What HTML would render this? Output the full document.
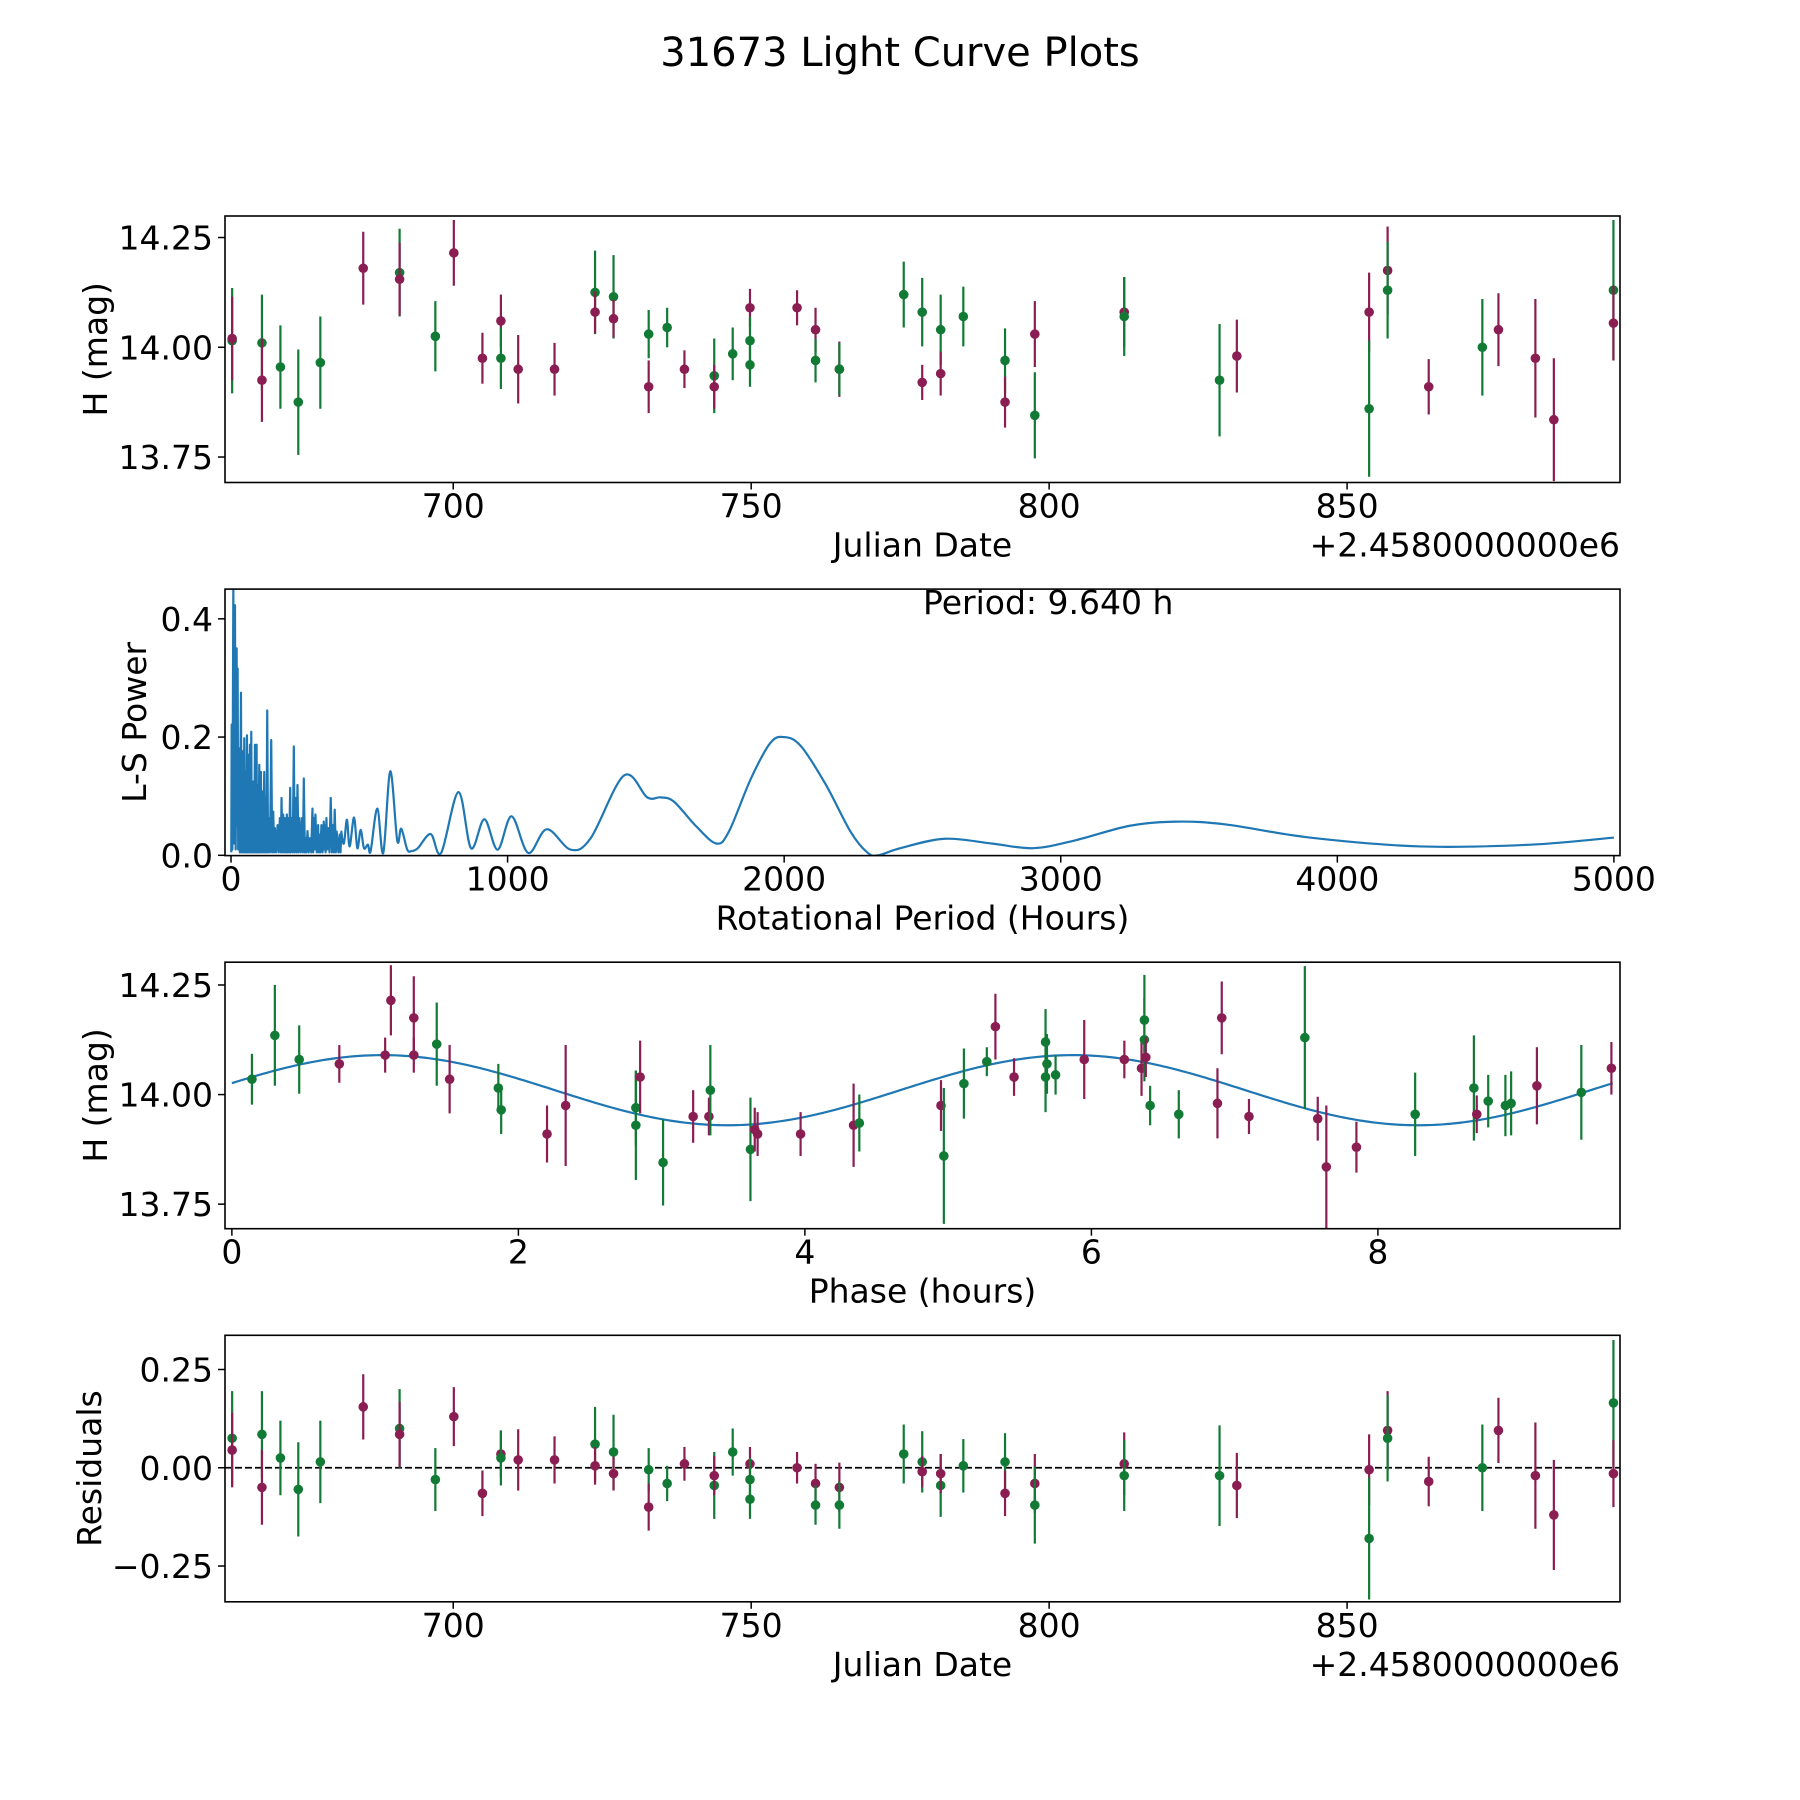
<!DOCTYPE html>
<html><head><meta charset="utf-8"><style>
html,body{margin:0;padding:0;background:#fff;}
svg{display:block;font-family:"DejaVu Sans","Liberation Sans",sans-serif;}
</style></head><body>
<svg id="fig" width="1800" height="1800" viewBox="0 0 1800 1800">
<text x="900" y="66" text-anchor="middle" font-size="40">31673 Light Curve Plots</text>
</svg>
<script>
// ---------- data: light curve ----------
const dates = [662.9,662.9,667.9,667.9,671.0,674.0,677.7,684.9,691.0,691.0,697.0,700.1,704.9,708.0,708.0,710.9,717.0,723.8,723.8,726.9,726.9,732.8,732.8,735.9,738.8,743.8,743.8,746.9,749.8,749.8,749.8,757.7,760.8,760.8,764.8,764.8,775.6,778.7,778.7,781.8,781.8,785.6,792.6,792.6,797.6,797.6,812.6,812.6,828.6,831.5,853.7,853.7,856.8,856.8,863.7,872.7,875.4,881.6,884.7,894.7,894.7];
const bands = ['g','p','g','p','g','g','g','p','g','p','g','p','p','p','g','p','p','g','p','g','p','g','p','g','p','g','p','g','p','g','g','p','p','g','p','g','g','g','p','g','p','g','g','p','p','g','p','g','g','p','p','g','p','g','p','g','p','p','p','g','p'];
const mags = [14.015,14.02,14.01,13.925,13.955,13.875,13.965,14.18,14.17,14.155,14.025,14.215,13.975,14.06,13.975,13.95,13.95,14.125,14.08,14.115,14.065,14.03,13.91,14.045,13.95,13.935,13.91,13.985,14.09,14.015,13.96,14.09,14.04,13.97,13.95,13.95,14.12,14.08,13.92,14.04,13.94,14.07,13.97,13.875,14.03,13.845,14.08,14.07,13.925,13.98,14.08,13.86,14.175,14.13,13.91,14.0,14.04,13.975,13.835,14.13,14.055];
const errs = [0.12,0.095,0.11,0.095,0.095,0.12,0.105,0.083,0.10,0.083,0.08,0.075,0.058,0.06,0.07,0.078,0.06,0.095,0.048,0.095,0.043,0.055,0.06,0.045,0.043,0.085,0.05,0.06,0.043,0.055,0.05,0.04,0.05,0.05,0.063,0.06,0.075,0.078,0.04,0.08,0.05,0.068,0.073,0.058,0.075,0.098,0.08,0.09,0.128,0.083,0.09,0.155,0.1,0.11,0.063,0.11,0.083,0.135,0.14,0.16,0.085];
const resids = [0.075,0.045,0.085,-0.05,0.025,-0.055,0.015,0.155,0.10,0.085,-0.03,0.13,-0.065,0.035,0.025,0.02,0.02,0.06,0.005,0.04,-0.015,-0.005,-0.10,-0.04,0.01,-0.045,-0.02,0.04,0.01,-0.03,-0.08,0.0,-0.04,-0.095,-0.05,-0.095,0.035,0.015,-0.01,-0.045,-0.015,0.005,0.015,-0.065,-0.04,-0.095,0.01,-0.02,-0.02,-0.045,-0.005,-0.18,0.095,0.075,-0.035,0.0,0.095,-0.02,-0.12,0.165,-0.015];
// ---------- data: phased ----------
const phases = [0.14,0.30,0.47,0.75,1.07,1.11,1.27,1.27,1.43,1.52,1.86,1.88,2.20,2.33,2.82,2.82,2.85,3.01,3.22,3.33,3.34,3.62,3.65,3.67,3.97,4.34,4.38,4.95,4.97,5.11,5.27,5.33,5.46,5.68,5.68,5.69,5.75,5.95,6.23,6.35,6.37,6.37,6.38,6.41,6.61,6.88,6.91,7.10,7.49,7.58,7.64,7.85,8.26,8.67,8.69,8.77,8.89,8.93,9.11,9.42,9.63];
const phaseBands = ['g','g','g','p','p','p','p','p','g','p','g','g','p','p','g','g','p','g','p','p','g','g','p','p','p','p','g','p','g','g','g','p','p','g','g','g','g','p','p','p','g','g','p','g','g','p','p','p','g','p','p','p','g','g','p','g','g','g','p','g','p'];
const phaseMags = [14.035,14.135,14.08,14.07,14.09,14.215,14.175,14.09,14.115,14.035,14.015,13.965,13.91,13.975,13.97,13.93,14.04,13.845,13.95,13.95,14.01,13.875,13.92,13.91,13.91,13.93,13.935,13.975,13.86,14.025,14.075,14.155,14.04,14.12,14.04,14.07,14.045,14.08,14.08,14.06,14.17,14.125,14.085,13.975,13.955,13.98,14.175,13.95,14.13,13.945,13.835,13.88,13.955,14.015,13.955,13.985,13.975,13.98,14.02,14.005,14.06];
const phaseErrs = [0.058,0.115,0.078,0.043,0.04,0.08,0.095,0.04,0.095,0.078,0.055,0.055,0.065,0.138,0.085,0.125,0.083,0.098,0.06,0.043,0.103,0.118,0.05,0.05,0.05,0.095,0.065,0.058,0.155,0.08,0.033,0.075,0.043,0.075,0.08,0.068,0.045,0.09,0.043,0.063,0.103,0.095,0.045,0.045,0.055,0.08,0.083,0.04,0.163,0.05,0.14,0.058,0.095,0.12,0.043,0.06,0.07,0.073,0.088,0.108,0.06];
const fitParams = [14.01, 0.08, 9.64, -0.155]; // mean, amplitude, period, phase offset (model)
// ---------- data: periodogram ----------
const periods = [1,2.4,5,8.4,11,14.4,17,20.4,22,24,26,28.8,32,36,38,40.9,44,48,50,52.9,55,57.7,60,62.5,65,68.5,71,73.3,75,76.9,79,81.7,84,86.5,89,92.5,94,96.2,99,102.2,105,108.2,110,113,116,120.2,122,125,128,131,134,137,141,145.4,149,152.7,156,158.7,163,168.3,172,176.7,180,182.7,186,188.7,192,194.7,198,201.9,204,206.7,210,214,216,218.8,223,227.2,230,233.2,237,240.4,244,247.6,252,257.2,260,263.2,267,270.5,273,276.5,281,286,290,294.5,297,300.5,303,305.3,310,315,317,319.7,323,327,331,335.4,337,339,342,345,348,351,356,360.6,365,369,372,375,379,382.2,388,393,396,399,405,411,419.5,429,444.7,456.8,468.8,480.8,495.2,504.8,528.9,550.5,575.8,601,615.4,637,651.5,675.5,721.9,759.7,822.2,867.8,916,964,1014.5,1074.6,1141.9,1228.4,1300.6,1420.8,1504.9,1553,1601,1680,1754,1800,1880,1950,2000,2060,2150,2240,2300,2340,2420,2580,2750,2900,3050,3250,3420,3600,3900,4300,4700,5000];
const powers = [0.005,0.221,0.01,0.452,0.02,0.423,0.01,0.35,0.05,0.316,0.01,0.181,0.005,0.275,0.005,0.176,0.005,0.198,0.005,0.141,0.005,0.203,0.005,0.17,0.005,0.187,0.005,0.209,0.005,0.119,0.005,0.125,0.005,0.187,0.005,0.187,0.005,0.119,0.005,0.153,0.005,0.141,0.005,0.108,0.005,0.141,0.005,0.097,0.005,0.245,0.005,0.063,0.005,0.195,0.005,0.074,0.005,0.046,0.005,0.051,0.005,0.063,0.005,0.097,0.005,0.069,0.005,0.063,0.005,0.069,0.005,0.063,0.005,0.114,0.005,0.063,0.005,0.184,0.005,0.097,0.005,0.119,0.005,0.063,0.005,0.063,0.005,0.13,0.005,0.029,0.005,0.041,0.005,0.029,0.005,0.079,0.005,0.063,0.01,0.069,0.005,0.051,0.005,0.035,0.005,0.051,0.005,0.057,0.01,0.051,0.005,0.063,0.01,0.046,0.005,0.097,0.005,0.051,0.005,0.077,0.005,0.04,0.005,0.035,0.005,0.04,0.01,0.029,0.06,0.015,0.064,0.012,0.043,0.012,0.018,0.007,0.079,0.004,0.142,0.025,0.045,0.01,0.007,0.012,0.036,0.004,0.107,0.012,0.061,0.0095,0.066,0.004,0.044,0.0095,0.029,0.135,0.098,0.098,0.091,0.05,0.02,0.04,0.13,0.19,0.2,0.185,0.12,0.04,0.005,0.0,0.012,0.028,0.02,0.012,0.025,0.05,0.057,0.052,0.03,0.015,0.018,0.03];
const jdTicks = [700,750,800,850];
const magTicks = [14.25,14.00,13.75];
const magTickLabels = ['14.25','14.00','13.75'];
const perTicks = [0,1000,2000,3000,4000,5000];
const powTicks = [0,0.2,0.4];
const powTickLabels = ['0.0','0.2','0.4'];
const phaseTicks = [0,2,4,6,8];
const resTicks = [0.25,0,-0.25];
const resTickLabels = ['0.25','0.00','\u22120.25'];

const NS='http://www.w3.org/2000/svg';
const svg=document.getElementById('fig');
const COL={g:'#117a34',p:'#8a1d52'};
const L=225,R=1620,H=266.5;
const FS=33;
const tops=[216,589.1,962.2,1335.3];
function mk(tag,attrs,parent){const e=document.createElementNS(NS,tag);for(const k in attrs)e.setAttribute(k,attrs[k]);(parent||svg).appendChild(e);return e;}
function scale(d0,d1,r0,r1){return v=>r0+(v-d0)/(d1-d0)*(r1-r0);}

function axes(idx,xd,yd,xt,xtl,yt,ytl,xlabel,ylabel,ylabX,name){
  const top=tops[idx],bot=top+H;
  const g=mk('g',{});
  
  
  const sx=scale(xd[0],xd[1],L,R), sy=scale(yd[0],yd[1],bot,top);
  const clipId='clip'+idx;
  const cp=mk('clipPath',{id:clipId},g);mk('rect',{x:L,y:top,width:R-L,height:H},cp);
  const plot=mk('g',{'clip-path':'url(#'+clipId+')'},g);
  xt.forEach((t,i)=>{const x=sx(t);
    const tk=mk('line',{x1:x,x2:x,y1:bot,y2:bot+7,stroke:'#000','stroke-width':1.5},g);
    
    
    const tl=mk('text',{x:x,y:bot+35,'text-anchor':'middle','font-size':FS},g);tl.textContent=xtl[i];
    
    });
  yt.forEach((t,i)=>{const y=sy(t);
    const tk=mk('line',{x1:L-7,x2:L,y1:y,y2:y,stroke:'#000','stroke-width':1.5},g);
    
    
    const tl=mk('text',{x:L-12,y:y+12,'text-anchor':'end','font-size':FS},g);tl.textContent=ytl[i];
    
    });
  const xl=mk('text',{x:(L+R)/2,y:bot+74,'text-anchor':'middle','font-size':FS},g);xl.textContent=xlabel;
  
  
  const yl=mk('text',{x:ylabX,y:(top+bot)/2,'text-anchor':'middle','font-size':FS,transform:'rotate(-90 '+ylabX+' '+((top+bot)/2)+')'},g);yl.textContent=ylabel;
  
  
  const fr=mk('rect',{x:L,y:top,width:R-L,height:H,fill:'none',stroke:'#000','stroke-width':1.6},g);
  
  
  return {sx,sy,plot,g,top,bot};
}
function errPoints(ax,xs,ys,es,cs,name){
  xs.forEach((xv,i)=>{const x=ax.sx(xv),y=ax.sy(ys[i]);
    const grp=mk('g',{},ax.plot);
    
    
    mk('line',{x1:x,x2:x,y1:ax.sy(ys[i]+es[i]),y2:ax.sy(ys[i]-es[i]),stroke:COL[cs[i]],'stroke-width':2.2},grp);
    mk('circle',{cx:x,cy:y,r:4.8,fill:COL[cs[i]]},grp);});
}
function offsetText(ax,bot){const t=mk('text',{x:R,y:bot+74,'text-anchor':'end','font-size':FS},ax.g);t.textContent='+2.4580000000e6';
  
  }

// Panel 1
const a1=axes(0,[661.7,895.8],[13.692,14.299],jdTicks,jdTicks.map(String),magTicks,magTickLabels,'Julian Date','H (mag)',107,'light-curve-panel');
errPoints(a1,dates,mags,errs,bands,'magnitude-point');
offsetText(a1,a1.bot);

// Panel 2
const a2=axes(1,[-21.7,5022],[-0.0005,0.4503],perTicks,perTicks.map(String),powTicks,powTickLabels,'Rotational Period (Hours)','L-S Power',146,'periodogram-panel');
(function(){
  let d='';
  const pts=periods.map((p,i)=>[a2.sx(p),a2.sy(powers[i])]);
  const split=periods.findIndex(p=>p>=405);
  for(let i=0;i<split;i++){d+=(i?'L':'M')+pts[i][0].toFixed(2)+','+pts[i][1].toFixed(2);}
  for(let i=split;i<pts.length-1;i++){
    const p0=pts[Math.max(i-1,0)],p1=pts[i],p2=pts[i+1],p3=pts[Math.min(i+2,pts.length-1)];
    const c1=[p1[0]+(p2[0]-p0[0])/6,p1[1]+(p2[1]-p0[1])/6],c2=[p2[0]-(p3[0]-p1[0])/6,p2[1]-(p3[1]-p1[1])/6];
    d+='C'+c1.join(',')+' '+c2.join(',')+' '+p2.join(',');}
  const ln=mk('path',{d:d,fill:'none',stroke:'#1f77b4','stroke-width':2.2,'stroke-linejoin':'round'},a2.plot);
  
  
})();
const pt=mk('text',{x:923,y:614,'font-size':FS},a2.g);pt.textContent='Period: 9.640 h';



// Panel 3
const a3=axes(2,[-0.048,9.69],[13.694,14.302],phaseTicks,phaseTicks.map(String),magTicks,magTickLabels,'Phase (hours)','H (mag)',107,'phase-panel');
(function(){
  let d='';const n=400;
  for(let k=0;k<=n;k++){const x=fitParams[2]*k/n;
    const y=fitParams[0]+fitParams[1]*Math.sin(4*Math.PI*(x-fitParams[3])/fitParams[2]);
    d+=(k?'L':'M')+a3.sx(x).toFixed(2)+','+a3.sy(y).toFixed(2);}
  const ln=mk('path',{d:d,fill:'none',stroke:'#1f77b4','stroke-width':2.2},a3.plot);
  
  
})();
errPoints(a3,phases,phaseMags,phaseErrs,phaseBands,'phased-point');

// Panel 4
const a4=axes(3,[661.7,895.8],[-0.341,0.337],jdTicks,jdTicks.map(String),resTicks,resTickLabels,'Julian Date','Residuals',101,'residuals-panel');
(function(){const y=a4.sy(0);
  const z=mk('line',{x1:L,x2:R,y1:y,y2:y,stroke:'#000','stroke-width':1.8,'stroke-dasharray':'7,3'},a4.plot);
  
  })();
errPoints(a4,dates,resids,errs,bands,'residual-point');
offsetText(a4,a4.bot);
</script>
</body></html>
